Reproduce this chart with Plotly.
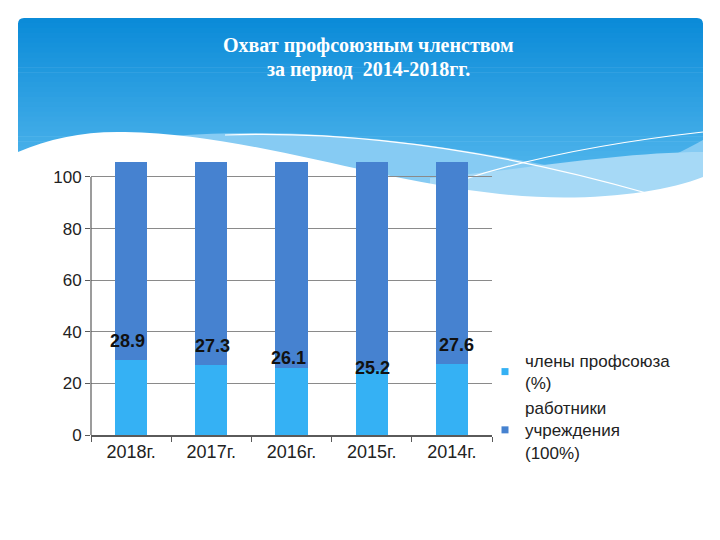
import plotly.graph_objects as go

# ---- data ----
categories = ["2018г.", "2017г.", "2016г.", "2015г.", "2014г."]
members_pct = [28.9, 27.3, 26.1, 25.2, 27.6]
staff_pct = [100, 100, 100, 100, 100]
series_names = ["члены профсоюза<br>(%)", "работники<br>учреждения<br>(100%)"]
y_ticks = [0, 20, 40, 60, 80, 100]
title_lines = ["Охват профсоюзным членством", "за период  2014-2018гг."]

# ---- styles ----
LIGHT = "#35B1F4"
DARK = "#4682D0"
label_yshift = [19, 19, 10, 2, 19]
label_xshift = [-4, 1, -3, 1, 5]
title_y_px = [46, 69]

W, H = 720, 540
PL, PR, PT, PB = 91, 492, 162, 435   # plot area in px


def X(px):
    return (px - PL) / (PR - PL)


def Y(py):
    return (PB - py) / (PB - PT)


def hex2rgb(h):
    h = h.lstrip("#")
    return tuple(int(h[i:i + 2], 16) for i in (0, 2, 4))


def lerp(c1, c2, t):
    a, b = hex2rgb(c1), hex2rgb(c2)
    return "rgb(%d,%d,%d)" % tuple(round(a[i] + (b[i] - a[i]) * t) for i in range(3))


shapes = []
# gradient header in horizontal stripes
top_c, bot_c = "#0B8BD8", "#62C0F1"
y0, y1 = 18, 215
n = 40
step = (y1 - y0) / n
for i in range(n):
    ya = y0 + i * step
    yb = ya + step + 0.6
    col = lerp(top_c, bot_c, i / (n - 1))
    if i == 0:
        r = 6
        path = (f"M {X(18)},{Y(yb)} L {X(18)},{Y(ya + r)} Q {X(18)},{Y(ya)} {X(18 + r)},{Y(ya)} "
                f"L {X(703 - r)},{Y(ya)} Q {X(703)},{Y(ya)} {X(703)},{Y(ya + r)} L {X(703)},{Y(yb)} Z")
        shapes.append(dict(type="path", path=path, xref="paper", yref="paper",
                           fillcolor=col, line=dict(width=0), layer="below"))
    else:
        shapes.append(dict(type="rect", xref="paper", yref="paper", x0=X(18), x1=X(703),
                           y0=Y(yb), y1=Y(ya), fillcolor=col, line=dict(width=0), layer="below"))


def P(pts):
    return " ".join(f"{X(a)},{Y(b)}" for a, b in pts)


# light blue band
band = (f"M {P([(170, 136)])} C {P([(330, 124), (470, 150), (560, 168)])} "
        f"C {P([(630, 180), (670, 158), (703, 140)])} L {P([(703, 215)])} L {P([(170, 215)])} Z")
shapes.append(dict(type="path", path=band, xref="paper", yref="paper",
                   fillcolor="#86CBF3", line=dict(width=0), layer="below"))
band2 = (f"M {P([(430, 178)])} C {P([(520, 170), (620, 152), (703, 152)])} "
         f"L {P([(703, 215)])} L {P([(430, 215)])} Z")
shapes.append(dict(type="path", path=band2, xref="paper", yref="paper",
                   fillcolor="#A6D9F6", line=dict(width=0), layer="below"))
# white wave
wave = (f"M {P([(18, 152)])} C {P([(50, 138), (85, 131), (125, 132)])} "
        f"C {P([(250, 134), (370, 180), (500, 194)])} "
        f"C {P([(580, 203), (660, 194), (703, 177)])} L {P([(705, 230)])} L {P([(16, 230)])} Z")
shapes.append(dict(type="path", path=wave, xref="paper", yref="paper",
                   fillcolor="white", line=dict(width=0), layer="below"))
# thin white lines
shapes.append(dict(type="path", path=f"M {P([(225, 135)])} Q {P([(420, 128), (650, 194)])}",
                   xref="paper", yref="paper", line=dict(color="white", width=1.2), layer="below"))
shapes.append(dict(type="path", path=f"M {P([(462, 180)])} Q {P([(560, 148), (703, 132)])}",
                   xref="paper", yref="paper", line=dict(color="white", width=1.2), layer="below"))
# y axis line (only up to 100)
shapes.append(dict(type="line", xref="paper", yref="y", x0=0, x1=0, y0=0, y1=max(y_ticks),
                   line=dict(color="#5a5a5a", width=1.2)))

fig = go.Figure()
fig.add_trace(go.Bar(x=categories, y=members_pct, marker=dict(color=LIGHT, line=dict(width=0)),
                     name=series_names[0], showlegend=False))
fig.add_trace(go.Bar(x=categories, y=staff_pct, marker=dict(color=DARK, line=dict(width=0)),
                     name=series_names[1], showlegend=False))
# legend entries
for nm, col in zip(series_names, [LIGHT, DARK]):
    fig.add_trace(go.Scatter(x=[None], y=[None], mode="markers", name=nm,
                             marker=dict(symbol="square", size=7, color=col)))

annotations = []
for i, (c, v) in enumerate(zip(categories, members_pct)):
    annotations.append(dict(x=c, y=v, text=f"<b>{v}</b>", showarrow=False, xref="x", yref="y",
                            yshift=label_yshift[i], xshift=label_xshift[i],
                            font=dict(family="Arial, Liberation Sans", size=18, color="#111"),
                            ))
for line, ypx in zip(title_lines, title_y_px):
    annotations.append(dict(x=X(368), y=Y(ypx), xref="paper", yref="paper", showarrow=False,
                            text=f"<b>{line}</b>",
                            font=dict(family="Times New Roman, Liberation Serif", size=20,
                                      color="white"),
                            xanchor="center", yanchor="middle", align="center"))

fig.update_layout(
    width=W, height=H,
    margin=dict(l=PL, r=W - PR, t=PT, b=H - PB, pad=0),
    barmode="stack", bargap=0.6,
    paper_bgcolor="white", plot_bgcolor="rgba(0,0,0,0)",
    shapes=shapes, annotations=annotations,
    font=dict(family="Arial, Liberation Sans", color="#222"),
    legend=dict(x=X(485), y=Y(343), xanchor="left", yanchor="top",
                font=dict(size=17, color="#222"), bgcolor="rgba(0,0,0,0)",
                tracegroupgap=0, itemwidth=30, traceorder="normal"),
)
fig.update_yaxes(range=[0, 105.8], tickvals=y_ticks, showgrid=True, gridcolor="#8a8a8a",
                 gridwidth=1, zeroline=False, showline=False, ticks="outside", ticklen=5,
                 tickcolor="#5a5a5a", tickfont=dict(size=17, color="#222"), fixedrange=True)
fig.update_xaxes(showline=True, linecolor="#5a5a5a", linewidth=1.5, ticks="outside",
                 tickson="boundaries", ticklen=5, tickcolor="#5a5a5a",
                 tickfont=dict(size=18, color="#222"), showgrid=False)

fig.write_html("out.html")
